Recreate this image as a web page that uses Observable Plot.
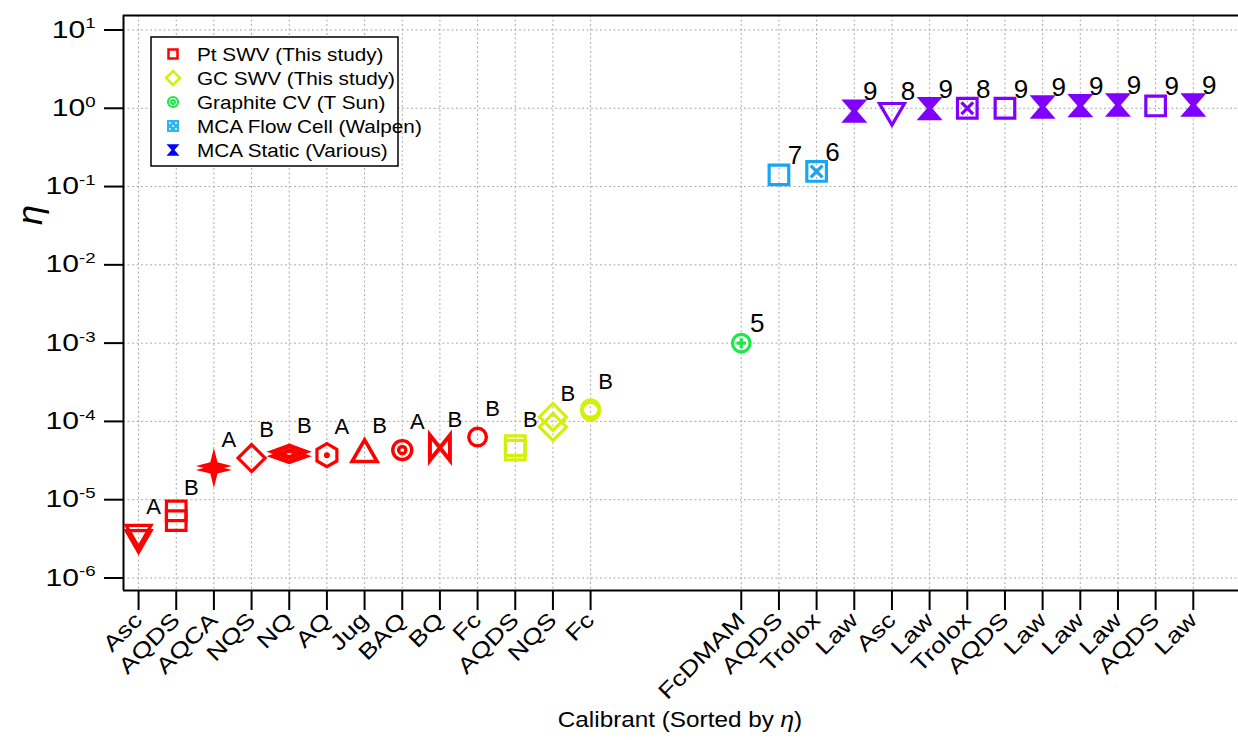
<!DOCTYPE html>
<html>
<head>
<meta charset="utf-8">
<script src="https://cdn.jsdelivr.net/npm/d3@7"></script>
<script src="https://cdn.jsdelivr.net/npm/@observablehq/plot@0.6"></script>
<style>
  body { margin: 0; background: #fff; }
  #chart { width: 1238px; height: 740px; }
</style>
</head>
<body>
<div id="chart"></div>
<script>
// Calibrants in plotted order (sorted by η within each group)
const calibrants = [
  "Asc", "AQDS", "AQCA", "NQS", "NQ", "AQ", "Jug", "BAQ", "BQ", "Fc", "AQDS", "NQS", "Fc",
  "FcDMAM", "AQDS", "Trolox", "Law", "Asc", "Law", "Trolox", "AQDS", "Law", "Law", "Law", "AQDS", "Law"
];
// Data source of each calibrant
const sources = [
  "Pt", "Pt", "Pt", "Pt", "Pt", "Pt", "Pt", "Pt", "Pt", "Pt", "GC", "GC", "GC",
  "Graphite", "Flow", "Flow", "Static", "Static", "Static", "Static", "Static", "Static", "Static", "Static", "Static", "Static"
];
// Measured η (two entries where replicate measurements were made)
const eta = [
  [3.8e-6, 3.25e-6], [7.2e-6, 5.4e-6], [2.7e-5, 2.4e-5], [3.4e-5], [4.1e-5, 3.6e-5], [3.7e-5],
  [3.8e-5], [4.3e-5], [4.6e-5], [6.3e-5], [4.9e-5, 4.3e-5], [1.14e-4, 8.5e-5], [1.45e-4, 1.35e-4],
  [1.0e-3], [0.141], [0.156], [0.92], [0.93], [0.99], [1.0], [1.0], [1.04], [1.08], [1.1], [1.07], [1.1]
];
// Annotation next to each calibrant: group letter or reference number
const tags = [
  "A", "B", "A", "B", "B", "A", "B", "A", "B", "B", "B", "B", "B",
  "5", "7", "6", "9", "8", "9", "8", "9", "9", "9", "9", "9", "9"
];
// Series shown in the legend
const seriesKeys = ["Pt", "GC", "Graphite", "Flow", "Static"];
const seriesNames = ["Pt SWV (This study)", "GC SWV (This study)", "Graphite CV (T Sun)", "MCA Flow Cell (Walpen)", "MCA Static (Various)"];
const seriesColors = ["#ff0000", "#d4f00a", "#1de84a", "#16a6f5", "#8000ff"];
// Tick decades of the log axis
const decades = [-6, -5, -4, -3, -2, -1, 0, 1];

// ---- marker shapes (custom d3-style symbol types, r = nominal radius) ----
const symbolOf = draw => ({ draw(ctx, size) { draw(ctx, Math.sqrt(size / Math.PI)); } });
const ring = (c, r) => { c.moveTo(r, 0); c.arc(0, 0, r, 0, 2 * Math.PI); };
const box = (c, r) => { c.moveTo(-r, -r); c.lineTo(r, -r); c.lineTo(r, r); c.lineTo(-r, r); c.closePath(); };
const shapes = {
  triDown: symbolOf((c, r) => { const h = r * Math.sqrt(3); c.moveTo(-r, -h / 3); c.lineTo(r, -h / 3); c.lineTo(0, 2 * h / 3); c.closePath(); }),
  triUp: symbolOf((c, r) => { const h = r * Math.sqrt(3); c.moveTo(-r, h / 3); c.lineTo(r, h / 3); c.lineTo(0, -2 * h / 3); c.closePath(); }),
  square: symbolOf(box),
  squareX: symbolOf((c, r) => { box(c, r); const k = 0.6 * r; c.moveTo(-k, -k); c.lineTo(k, k); c.moveTo(k, -k); c.lineTo(-k, k); }),
  diamond: symbolOf((c, r) => { c.moveTo(0, -r); c.lineTo(r, 0); c.lineTo(0, r); c.lineTo(-r, 0); c.closePath(); }),
  flatDiamond: symbolOf((c, r) => { const v = 0.36 * r; c.moveTo(0, -v); c.lineTo(r, 0); c.lineTo(0, v); c.lineTo(-r, 0); c.closePath(); }),
  star4: symbolOf((c, r) => {
    const k = 0.2 * r;
    c.moveTo(0, -r); c.lineTo(k, -k); c.lineTo(r, 0); c.lineTo(k, k);
    c.lineTo(0, r); c.lineTo(-k, k); c.lineTo(-r, 0); c.lineTo(-k, -k); c.closePath();
  }),
  hexDot: symbolOf((c, r) => {
    for (let i = 0; i < 6; ++i) {
      const a = -Math.PI / 2 + i * Math.PI / 3;
      i ? c.lineTo(r * Math.cos(a), r * Math.sin(a)) : c.moveTo(r * Math.cos(a), r * Math.sin(a));
    }
    c.closePath();
    ring(c, 0.12 * r);
  }),
  circle: symbolOf(ring),
  circleTarget: symbolOf((c, r) => { ring(c, r); ring(c, 0.38 * r); }),
  circlePlus: symbolOf((c, r) => { ring(c, r); const k = 0.55 * r; c.moveTo(-k, 0); c.lineTo(k, 0); c.moveTo(0, -k); c.lineTo(0, k); }),
  bowtie: symbolOf((c, r) => {
    const w = 0.8 * r;
    c.moveTo(-w, -r); c.lineTo(0, 0); c.lineTo(-w, r); c.closePath();
    c.moveTo(w, -r); c.lineTo(0, 0); c.lineTo(w, r); c.closePath();
  }),
  hourglass: symbolOf((c, r) => {
    const h = 0.9 * r, w = 0.22 * r;
    c.moveTo(-r, -h); c.lineTo(r, -h); c.lineTo(w, 0); c.lineTo(r, h);
    c.lineTo(-r, h); c.lineTo(-w, 0); c.closePath();
  })
};

// Marker style of each calibrant
const markerOf = {
  Asc:    { shape: "triDown",      r: 12.5, filled: false, sw: 3.2 },
  AQDS:   { shape: "square",       r: 9.8,  filled: false, sw: 3.2 },
  AQCA:   { shape: "star4",        r: 18,   filled: true,  sw: 0 },
  NQS:    { shape: "diamond",      r: 13.5, filled: false, sw: 3.2 },
  NQ:     { shape: "flatDiamond",  r: 16,   filled: false, sw: 4.5 },
  AQ:     { shape: "hexDot",       r: 11.5, filled: false, sw: 3.2 },
  Jug:    { shape: "triUp",        r: 12.5, filled: false, sw: 3.6 },
  BAQ:    { shape: "circleTarget", r: 9.5,  filled: false, sw: 3.4 },
  BQ:     { shape: "bowtie",       r: 12.5, filled: false, sw: 4 },
  Fc:     { shape: "circle",       r: 8.8,  filled: false, sw: 3.4 },
  FcDMAM: { shape: "circlePlus",   r: 8.8,  filled: false, sw: 3.2 },
  Trolox: { shape: "squareX",      r: 9.8,  filled: false, sw: 3.2 },
  Law:    { shape: "hourglass",    r: 13,   filled: true,  sw: 0 }
};

// ---- data table ----
const firstLiterature = sources.indexOf("Graphite");
const gap = 3; // empty slots between this study and literature values
const slotOf = i => i + (i >= firstLiterature ? gap : 0);
const points = [];
calibrants.forEach((name, i) => {
  eta[i].forEach(v => points.push({ name, source: sources[i], slot: slotOf(i), value: v }));
});
const tagRows = calibrants.map((name, i) => ({
  slot: slotOf(i),
  value: Math.sqrt(d3.max(eta[i]) * d3.min(eta[i])),
  tag: tags[i],
  numeric: /\d/.test(tags[i])
}));
const slots = calibrants.map((_, i) => slotOf(i));
const nameBySlot = new Map(calibrants.map((n, i) => [slotOf(i), n]));

const xDomain = [-0.4, 29.2];
const yDomain = [10 ** -6.16, 10 ** 1.185];
const font = "'Liberation Sans', Arial, Helvetica, sans-serif";

const dotMarks = Object.keys(markerOf).map(name => {
  const m = markerOf[name];
  return Plot.dot(points.filter(p => p.name === name), {
    x: "slot", y: "value", symbol: shapes[m.shape], r: m.r,
    stroke: m.filled ? "none" : "source",
    fill: m.filled ? "source" : "none",
    strokeWidth: m.sw, strokeLinejoin: "miter"
  });
});

const chart = Plot.plot({
  width: 1238,
  height: 740,
  marginTop: 15,
  marginBottom: 150,
  marginLeft: 123,
  marginRight: 0,
  style: { fontFamily: font, background: "#fff", color: "#000" },
  x: { type: "linear", domain: xDomain },
  y: { type: "log", domain: yDomain },
  color: { domain: seriesKeys, range: seriesColors },
  marks: [
    Plot.gridY(decades.map(d => 10 ** d), { stroke: "#aaa", strokeOpacity: 1, strokeDasharray: "2,2.5", strokeWidth: 1 }),
    Plot.gridX(slots, { stroke: "#aaa", strokeOpacity: 1, strokeDasharray: "2,2.5", strokeWidth: 1 }),
    Plot.axisY(decades.map(d => 10 ** d), {
      tickSize: 19, tickPadding: 9, strokeWidth: 2,
      tickFormat: d => `10^${Math.round(Math.log10(d))}`, label: null
    }),
    Plot.axisX(slots, {
      tickSize: 20, tickPadding: 6, strokeWidth: 2,
      tickRotate: -45, tickFormat: s => nameBySlot.get(s), label: null
    }),
    Plot.ruleX([xDomain[0]], { stroke: "#000", strokeWidth: 2 }),
    Plot.ruleY(yDomain, { stroke: "#000", strokeWidth: 2 }),
    ...dotMarks,
    Plot.text(tagRows.filter(d => !d.numeric), { x: "slot", y: "value", text: "tag", dx: 15, dy: -28, fontSize: 22, fill: "#000" }),
    Plot.text(tagRows.filter(d => d.numeric), { x: "slot", y: "value", text: "tag", dx: 16, dy: -19, fontSize: 26, fill: "#000" })
  ]
});

document.getElementById("chart").append(chart);
const svg = d3.select(chart);

// Widen a text selection horizontally (the labels use a broad sans face)
function widen(sel, k) {
  sel.each(function () {
    const w = this.getComputedTextLength();
    if (w > 0) {
      this.setAttribute("textLength", w * k);
      this.setAttribute("lengthAdjust", "spacingAndGlyphs");
    }
  });
}

// Axis label sizes, and superscript exponents on the log-axis labels
svg.selectAll('g[aria-label="x-axis tick label"], g[aria-label="x-axis tick label"] text')
  .attr("font-size", 22);
svg.selectAll('g[aria-label="y-axis tick label"], g[aria-label="y-axis tick label"] text')
  .attr("font-size", 23.5);
svg.selectAll('g[aria-label="y-axis tick label"] text').each(function () {
  const [base, exp] = this.textContent.split("^");
  const t = d3.select(this).text(null);
  t.append("tspan").text(base);
  t.append("tspan").attr("dy", "-0.62em").attr("font-size", "0.62em").text(exp);
});
widen(svg.selectAll('g[aria-label="x-axis tick label"] text'), 1.22);
widen(svg.selectAll('g[aria-label="y-axis tick label"] text'), 1.28);

// Axis titles
const xTitle = svg.append("text")
  .attr("x", 680).attr("y", 727).attr("text-anchor", "middle")
  .attr("font-family", font).attr("font-size", 21.5).attr("fill", "#000");
xTitle.append("tspan").text("Calibrant (Sorted by ");
xTitle.append("tspan").attr("font-style", "italic").text("η");
xTitle.append("tspan").text(")");
widen(xTitle, 1.13);

svg.append("text")
  .attr("transform", "translate(42,215) rotate(-90)")
  .attr("text-anchor", "middle")
  .attr("font-family", font).attr("font-size", 36).attr("font-style", "italic").attr("fill", "#000")
  .text("η");

// Legend
const legend = svg.append("g").attr("transform", "translate(151,37)");
legend.append("rect").attr("width", 247).attr("height", 129)
  .attr("fill", "#fff").attr("stroke", "#000").attr("stroke-width", 1.5);
const legendMarker = [
  { type: shapes.square, r: 4.5, stroke: seriesColors[0], fill: "none", sw: 2.5 },
  { type: shapes.diamond, r: 7, stroke: seriesColors[1], fill: "none", sw: 2.5 },
  { type: shapes.circleTarget, r: 5, stroke: seriesColors[2], fill: "none", sw: 2.2 },
  { type: shapes.square, r: 6, stroke: "none", fill: "#2cb6f2", sw: 0 },
  { type: shapes.hourglass, r: 6.5, stroke: "none", fill: "#0000ff", sw: 0 }
];
seriesNames.forEach((name, k) => {
  const row = legend.append("g").attr("transform", `translate(0,${17 + k * 24})`);
  const m = legendMarker[k];
  row.append("path")
    .attr("transform", "translate(22,0)")
    .attr("d", d3.symbol(m.type, Math.PI * m.r * m.r)())
    .attr("fill", m.fill).attr("stroke", m.stroke).attr("stroke-width", m.sw);
  if (k === 3) {
    // dotted pattern inside the flow-cell swatch
    [[-3, -3], [3, -3], [0, 0], [-3, 3], [3, 3]].forEach(([dx, dy]) =>
      row.append("circle").attr("cx", 22 + dx).attr("cy", dy).attr("r", 0.9).attr("fill", "#fff"));
  }
  const label = row.append("text").attr("x", 46).attr("y", 0).attr("dy", "0.35em").attr("text-anchor", "start")
    .attr("font-family", font).attr("font-size", 19).attr("fill", "#000").text(name);
  widen(label, 1.09);
});
</script>
</body>
</html>
